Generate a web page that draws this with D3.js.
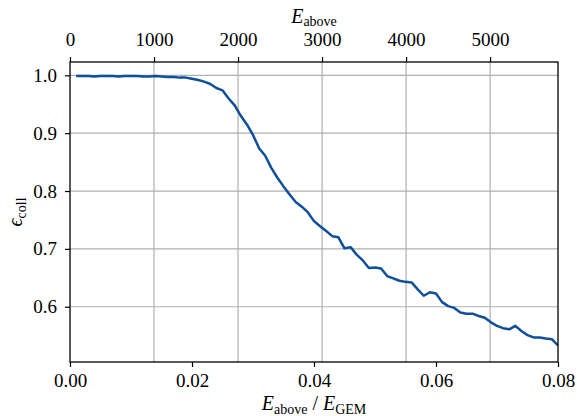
<!DOCTYPE html>
<html>
<head>
<meta charset="utf-8">
<script src="https://cdn.jsdelivr.net/npm/d3@7"></script>
<style>
  html, body { margin: 0; padding: 0; background: #fff; }
  svg { display: block; }
  text { font-family: "Liberation Serif", "DejaVu Serif", serif; fill: #000; }
</style>
</head>
<body>
<svg id="chart" width="577" height="416"></svg>
<script>
// ---- data ----
const ratio = [
  0.001,0.002,0.003,0.004,0.005,0.006,0.007,0.008,0.009,0.010,
  0.011,0.012,0.013,0.014,0.015,0.016,0.017,0.018,0.019,0.020,
  0.021,0.022,0.023,0.024,0.025,0.026,0.027,0.028,0.029,0.030,
  0.031,0.032,0.033,0.034,0.035,0.036,0.037,0.038,0.039,0.040,
  0.041,0.042,0.043,0.044,0.045,0.046,0.047,0.048,0.049,0.050,
  0.051,0.052,0.053,0.054,0.055,0.056,0.057,0.058,0.059,0.060,
  0.061,0.062,0.063,0.064,0.065,0.066,0.067,0.068,0.069,0.070,
  0.071,0.072,0.073,0.074,0.075,0.076,0.077,0.078,0.079,0.080
];
const efficiency = [
  0.999,0.999,0.999,0.998,0.999,0.999,0.999,0.998,0.999,0.999,
  0.999,0.998,0.998,0.999,0.998,0.997,0.997,0.996,0.996,0.994,
  0.992,0.989,0.985,0.978,0.974,0.960,0.948,0.930,0.915,0.897,
  0.874,0.861,0.840,0.823,0.808,0.794,0.781,0.773,0.763,0.748,
  0.739,0.731,0.722,0.720,0.701,0.703,0.690,0.680,0.667,0.668,
  0.666,0.653,0.649,0.645,0.643,0.642,0.630,0.619,0.625,0.623,
  0.608,0.601,0.598,0.590,0.588,0.588,0.584,0.581,0.573,0.567,
  0.563,0.561,0.567,0.558,0.551,0.547,0.547,0.545,0.544,0.533
];
const xTicks = [0.00, 0.02, 0.04, 0.06, 0.08];
const topTicks = [0, 1000, 2000, 3000, 4000, 5000];
const yTicks = [0.6, 0.7, 0.8, 0.9, 1.0];
const eGem = 72600;

// ---- layout ----
const L = 70, R = 558, T = 62, B = 362;
const svg = d3.select("#chart");
const x = d3.scaleLinear().domain([0, 0.08]).range([L, R]);
const xTop = d3.scaleLinear().domain([0, 0.08 * eGem]).range([L, R]);
const y = d3.scaleLinear().domain([0.5045, 1.023]).range([B, T]);

const FS = 19;
const SERIF = '"Liberation Serif", "DejaVu Serif", serif';

// grid
const grid = svg.append("g");
grid.selectAll("line.v").data(topTicks.filter(d => d > 0)).join("line")
  .attr("x1", d => xTop(d)).attr("x2", d => xTop(d))
  .attr("y1", T).attr("y2", B)
  .attr("stroke", "#b0b0b0").attr("stroke-width", 1.2);
grid.selectAll("line.h").data(yTicks).join("line")
  .attr("x1", L).attr("x2", R)
  .attr("y1", d => y(d)).attr("y2", d => y(d))
  .attr("stroke", "#b0b0b0").attr("stroke-width", 1.2);

// curve
const line = d3.line().x((d, i) => x(ratio[i])).y(d => y(d));
svg.append("path").datum(efficiency)
  .attr("d", line)
  .attr("fill", "none")
  .attr("stroke", "#0d4f9a")
  .attr("stroke-width", 2.5)
  .attr("stroke-linejoin", "round");

// axes
function styleAxis(g) {
  g.attr("font-family", SERIF).attr("font-size", FS);
  g.select(".domain").remove();
  g.selectAll(".tick line").attr("stroke", "#000").attr("stroke-width", 1.2);
  g.selectAll(".tick text").attr("font-family", SERIF).attr("font-size", FS).attr("fill", "#000");
}
svg.append("g").attr("transform", `translate(0,${B})`)
  .call(d3.axisBottom(x).tickValues(xTicks).tickFormat(d3.format(".2f")).tickSize(5).tickPadding(7))
  .call(styleAxis);
svg.append("g").attr("transform", `translate(0,${T})`)
  .call(d3.axisTop(xTop).tickValues(topTicks).tickFormat(d3.format("d")).tickSize(5).tickPadding(11))
  .call(styleAxis);
svg.append("g").attr("transform", `translate(${L},0)`)
  .call(d3.axisLeft(y).tickValues(yTicks).tickFormat(d3.format(".1f")).tickSize(5).tickPadding(8))
  .call(styleAxis);

// frame
svg.append("rect").attr("x", L).attr("y", T).attr("width", R - L).attr("height", B - T)
  .attr("fill", "none").attr("stroke", "#000").attr("stroke-width", 1.3);

// labels
const bl = svg.append("text").attr("x", (L + R) / 2).attr("y", 410)
  .attr("text-anchor", "middle").attr("font-size", 20);
bl.append("tspan").attr("font-style", "italic").text("E");
bl.append("tspan").attr("dy", 4).attr("font-size", 14).text("above");
bl.append("tspan").attr("dy", -4).text(" / ");
bl.append("tspan").attr("font-style", "italic").text("E");
bl.append("tspan").attr("dy", 4).attr("font-size", 14).text("GEM");

const tl = svg.append("text").attr("x", (L + R) / 2).attr("y", 23)
  .attr("text-anchor", "middle").attr("font-size", 20);
tl.append("tspan").attr("font-style", "italic").text("E");
tl.append("tspan").attr("dy", 3).attr("font-size", 14).text("above");

const yl = svg.append("text")
  .attr("transform", `translate(22,${(T + B) / 2}) rotate(-90)`)
  .attr("text-anchor", "middle").attr("font-size", 20);
yl.append("tspan").attr("font-style", "italic").text("ϵ");
yl.append("tspan").attr("dy", 4).attr("font-size", 14).text("coll");
</script>
</body>
</html>
